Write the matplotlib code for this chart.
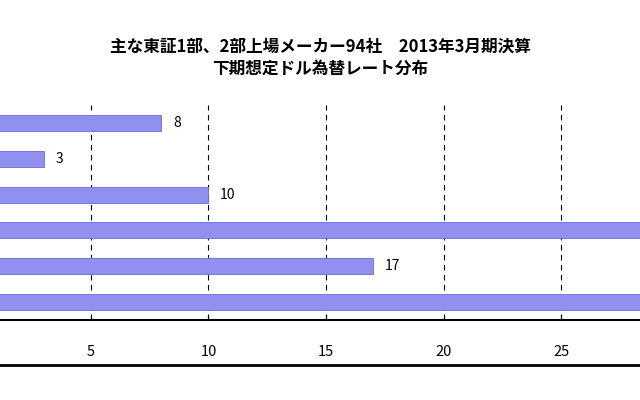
import matplotlib.pyplot as plt
from matplotlib.lines import Line2D

plt.rcParams['font.family'] = 'Noto Sans CJK JP'

values = [8, 3, 10, 30, 17, 29]   # 4th and 6th bars run past the cropped edge
ticks = [5, 10, 15, 20, 25]
title = "主な東証1部、2部上場メーカー94社　2013年3月期決算\n下期想定ドル為替レート分布"

fig = plt.figure(figsize=(6.4, 4.0), dpi=100)
ax = fig.add_axes([0, 0.2, 1, 0.5375])
pos = range(len(values))
ax.barh(pos, values, height=0.45, color='#9090f0', edgecolor='#6a6ad0', linewidth=0.6, zorder=3)
for p, v in zip(pos, values):
    if v < 28:
        ax.text(v + 0.5, p, str(v), va='center', ha='left', fontsize=10)
ax.set_xlim(1.13, 28.36)
ax.set_ylim(5.5, -0.5)
ax.set_xticks(ticks)
ax.set_xticklabels([str(t) for t in ticks], fontsize=10.5)
ax.tick_params(axis='x', length=4, direction='in', pad=18)
ax.set_yticks([])
for t in ticks:
    ax.axvline(t, color='black', linestyle=(0, (5, 4)), linewidth=0.8, zorder=1)
for s in ['top', 'left', 'right']:
    ax.spines[s].set_visible(False)
ax.spines['bottom'].set_linewidth(1.5)

fig.add_artist(Line2D([0, 1], [1 - 365 / 400] * 2, color='black', linewidth=2))
fig.text(0.5, 1 - 58 / 400, title, ha='center', va='center', fontsize=12,
         fontweight='bold', linespacing=1.3)

fig.savefig('out.png', dpi=100)
